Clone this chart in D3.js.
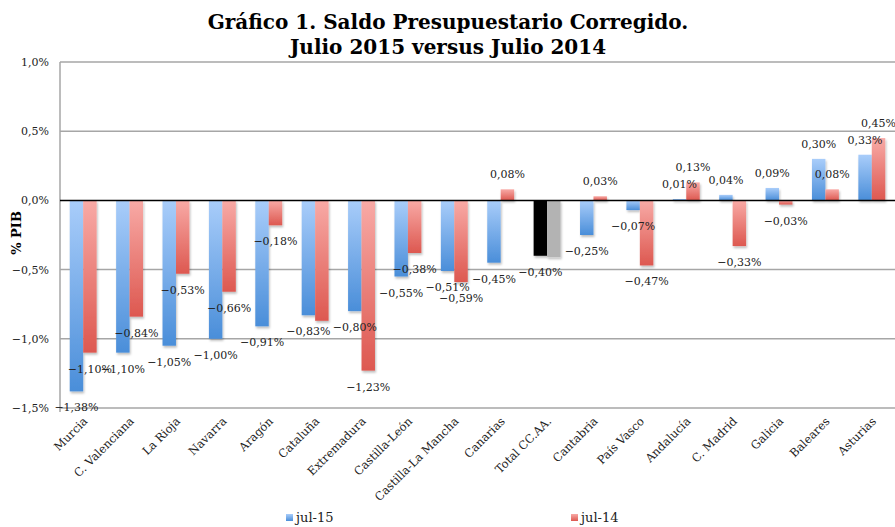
<!DOCTYPE html>
<html><head><meta charset="utf-8">
<script src="https://cdn.jsdelivr.net/npm/d3@7"></script>
<style>body{margin:0;background:#fff}svg{display:block}</style>
</head><body>
<svg id="c" width="895" height="527"></svg>
<script>
const categories = ["Murcia","C. Valenciana","La Rioja","Navarra","Aragón","Cataluña","Extremadura","Castilla-León","Castilla-La Mancha","Canarias","Total CC.AA.","Cantabria","País Vasco","Andalucía","C. Madrid","Galicia","Baleares","Asturias"];
const jul15 = [-1.38,-1.10,-1.05,-1.00,-0.91,-0.83,-0.80,-0.55,-0.51,-0.45,-0.40,-0.25,-0.07,0.01,0.04,0.09,0.30,0.33];
const jul14 = [-1.10,-0.84,-0.53,-0.66,-0.18,-0.87,-1.23,-0.38,-0.59,0.08,-0.41,0.03,-0.47,0.13,-0.33,-0.03,0.08,0.45];
const seriesNames = ["jul-15","jul-14"];
const yTicks = [1.0,0.5,0.0,-0.5,-1.0,-1.5];
const hiddenLabels = ["Cataluña|jul-14","Total CC.AA.|jul-14"];
const totalCategory = "Total CC.AA.";

const svg = d3.select("#c");
const font = "'DejaVu Serif', 'Liberation Serif', serif";
const L = 60, R = 895, T = 62, B = 408;

const defs = svg.append("defs");
function grad(id, c1, c2){
  const g = defs.append("linearGradient").attr("id", id).attr("x1",0).attr("y1",0).attr("x2",0).attr("y2",1);
  g.append("stop").attr("offset","0%").attr("stop-color",c1);
  g.append("stop").attr("offset","100%").attr("stop-color",c2);
}
grad("gBlue","#a9cdfa","#4a8ed9");
grad("gRed","#f8aaa6","#dd5850");
const f = defs.append("filter").attr("id","sh").attr("x","-20%").attr("y","-20%").attr("width","150%").attr("height","150%");
f.append("feDropShadow").attr("dx",1).attr("dy",2).attr("stdDeviation",1.2).attr("flood-color","#000").attr("flood-opacity",0.25);

const x = d3.scaleBand().domain(categories).range([L, R]).paddingInner(0.42).paddingOuter(0.21);
const xs = d3.scaleBand().domain(seriesNames).range([0, x.bandwidth()]);
const y = d3.scaleLinear().domain([-1.5, 1.0]).range([B, T]);

const fmtTick = v => d3.format(".1f")(v).replace(".", ",") + "%";
const fmtVal = v => d3.format(".2f")(v).replace(".", ",") + "%";

// gridlines
svg.append("g").selectAll("line").data(yTicks.filter(t => t !== 0)).join("line")
  .attr("x1", L).attr("x2", R).attr("y1", d => y(d)).attr("y2", d => y(d))
  .attr("stroke", "#a6a6a6").attr("stroke-width", 1.5);
svg.append("line").attr("x1", L).attr("x2", L).attr("y1", T).attr("y2", B + 4)
  .attr("stroke", "#a6a6a6").attr("stroke-width", 1.5);

// y tick labels
svg.append("g").selectAll("text").data(yTicks).join("text")
  .attr("x", L - 11).attr("y", d => y(d) + 4).attr("text-anchor", "end")
  .attr("font-family", font).attr("font-size", 11).attr("fill", "#222")
  .text(fmtTick);

// bars
const rows = [];
categories.forEach((c, i) => {
  rows.push({cat: c, s: "jul-15", v: jul15[i]});
  rows.push({cat: c, s: "jul-14", v: jul14[i]});
});
function fillOf(d){
  if (d.cat === totalCategory) return d.s === "jul-15" ? "#000" : "#b3b3b3";
  return d.s === "jul-15" ? "url(#gBlue)" : "url(#gRed)";
}
svg.append("g").attr("filter","url(#sh)").selectAll("rect").data(rows).join("rect")
  .attr("x", d => x(d.cat) + xs(d.s))
  .attr("width", xs.bandwidth())
  .attr("y", d => Math.min(y(d.v), y(0)))
  .attr("height", d => Math.max(0.8, Math.abs(y(d.v) - y(0))))
  .attr("fill", fillOf);

// zero line
svg.append("line").attr("x1", L).attr("x2", R).attr("y1", y(0)).attr("y2", y(0))
  .attr("stroke", "#000").attr("stroke-width", 1.5);

// value labels
svg.append("g").selectAll("text")
  .data(rows.filter(d => !hiddenLabels.includes(d.cat + "|" + d.s))).join("text")
  .attr("x", d => x(d.cat) + xs(d.s) + xs.bandwidth() / 2)
  .attr("y", d => d.v >= 0 ? y(d.v) - 11 : y(d.v) + 20)
  .attr("text-anchor", "middle")
  .attr("font-family", font).attr("font-size", 11).attr("fill", "#222")
  .text(d => fmtVal(d.v));

// x labels
svg.append("g").selectAll("text").data(categories).join("text")
  .attr("transform", d => `translate(${x(d) + x.bandwidth() / 2 + 5},${B + 14}) rotate(-45)`)
  .attr("text-anchor", "end")
  .attr("font-family", font).attr("font-size", 11.5).attr("fill", "#222")
  .text(d => d);

// title
svg.append("text").attr("x", 448).attr("y", 29).attr("text-anchor", "middle")
  .attr("font-family", font).attr("font-weight", "bold").attr("font-size", 20)
  .text("Gráfico 1. Saldo Presupuestario Corregido.");
svg.append("text").attr("x", 448).attr("y", 54).attr("text-anchor", "middle")
  .attr("font-family", font).attr("font-weight", "bold").attr("font-size", 20)
  .text("Julio 2015 versus Julio 2014");

// y axis title
svg.append("text").attr("transform", "translate(21,233) rotate(-90)").attr("text-anchor", "middle")
  .attr("font-family", font).attr("font-weight", "bold").attr("font-size", 13)
  .text("% PIB");

// legend
const legendX = [286, 571];
const lg = svg.append("g").selectAll("g").data(seriesNames).join("g")
  .attr("transform", (d, i) => `translate(${legendX[i]},514)`);
lg.append("rect").attr("width", 7).attr("height", 7)
  .attr("fill", (d, i) => i === 0 ? "url(#gBlue)" : "url(#gRed)");
lg.append("text").attr("x", 10).attr("y", 8)
  .attr("font-family", font).attr("font-size", 13).attr("fill", "#222")
  .text(d => d);
</script>
</body></html>
